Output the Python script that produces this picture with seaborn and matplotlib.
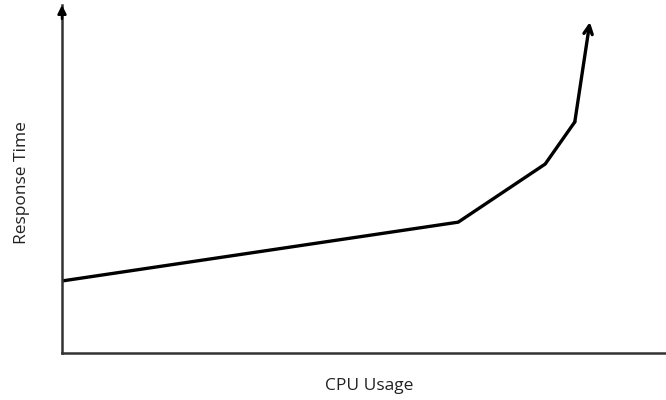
import matplotlib
matplotlib.use("Agg")
import matplotlib.pyplot as plt
import seaborn as sns
import pandas as pd

# curve (axis units 0-100)
cpu_usage = [0.0, 65.6, 80.0, 84.9, 87.4]
response_time = [20.7, 37.6, 54.3, 66.4, 95.1]

sns.set_style("white")
plt.rcParams['font.family'] = ['Open Sans', 'DejaVu Sans']

df = pd.DataFrame({"cpu": cpu_usage[:-1], "rt": response_time[:-1]})

fig = plt.figure(figsize=(6.66, 4.0), dpi=100)
ax = fig.add_axes([62 / 666, 47 / 400, 1 - 62 / 666, 348 / 400])

sns.lineplot(x="cpu", y="rt", data=df, color="black", linewidth=2.4, ax=ax,
             sort=False, estimator=None)
# last segment with open arrow head
ax.annotate("", xy=(cpu_usage[-1], response_time[-1]),
            xytext=(cpu_usage[-2], response_time[-2]),
            arrowprops=dict(arrowstyle="->,head_length=0.6,head_width=0.3",
                            color="black", lw=2.4, shrinkA=0, shrinkB=0))

ax.set_xlim(0, 100)
ax.set_ylim(0, 100)
ax.set_xticks([])
ax.set_yticks([])
for side in ["top", "right"]:
    ax.spines[side].set_visible(False)
for side in ["left", "bottom"]:
    ax.spines[side].set_color("#333333")
    ax.spines[side].set_linewidth(1.8)

# y-axis arrow head
ax.annotate("", xy=(0, 100), xytext=(0, 96),
            arrowprops=dict(arrowstyle="-|>,head_length=0.5,head_width=0.25",
                            color="black", lw=1.8, shrinkA=0, shrinkB=0),
            annotation_clip=False)

ax.set_xlabel("CPU Usage", fontsize=12.5, color="#222222", va="center")
ax.set_ylabel("Response Time", fontsize=12.5, color="#222222", va="center")
ax.xaxis.set_label_coords((369 - 62) / 604, (353 - 386) / 348)
ax.yaxis.set_label_coords((22.5 - 62) / 604, (353 - 183) / 348)

fig.savefig("out.png", dpi=100)
